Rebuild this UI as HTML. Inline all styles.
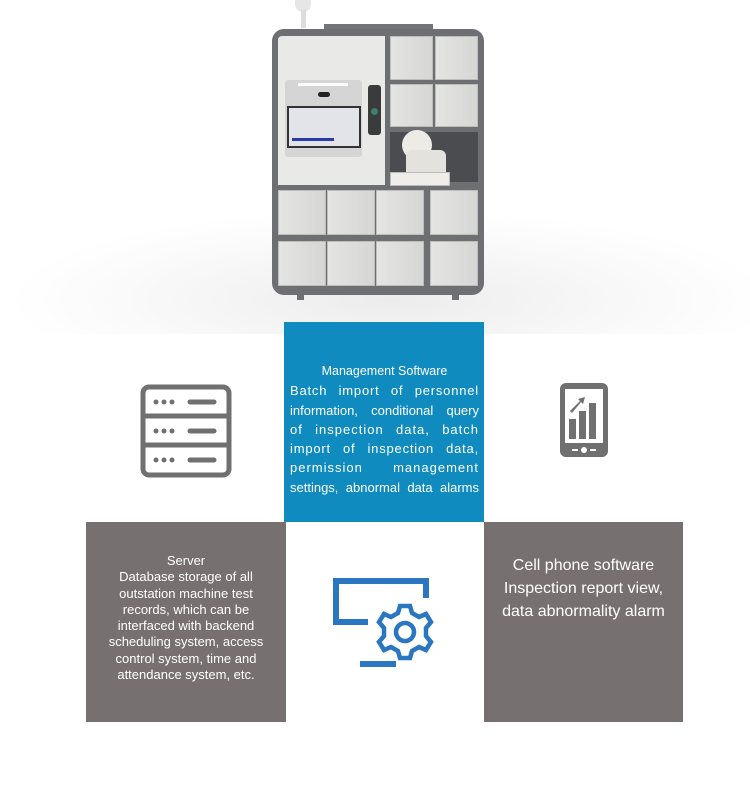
<!DOCTYPE html>
<html><head><meta charset="utf-8"><style>
*{margin:0;padding:0;box-sizing:border-box}
body{width:750px;height:790px;position:relative;background:#fff;font-family:"Liberation Sans",sans-serif;overflow:hidden}
.a{position:absolute}
.bg{left:0;top:0;width:750px;height:334px;background:radial-gradient(ellipse 380px 90px at 390px 300px,#ececec 0%,#f7f7f7 55%,#fff 100%)}
.d{position:absolute;background:linear-gradient(90deg,#e4e4e2,#d6d6d4);border:1px solid #bdbdbb}
.box{position:absolute;color:#fff;text-align:center;font-family:"Liberation Sans Narrow","Liberation Sans",sans-serif}
.j{text-align:justify;text-align-last:justify;white-space:nowrap;height:19.3px}
</style></head><body>
<div class="a bg"></div>
<div class="a" style="left:295px;top:0;width:16px;height:12px;background:#e6e6e6;border-radius:0 0 8px 8px"></div>
<div class="a" style="left:301px;top:10px;width:5px;height:18px;background:#dcdcdc"></div>
<div class="a" style="left:324px;top:24px;width:109px;height:8px;background:#737477"></div>
<div class="a" style="left:272px;top:29px;width:212px;height:266px;background:#6e6f72;border-radius:12px"></div>
<div class="a" style="left:297px;top:290px;width:7px;height:10px;background:#6e6f72"></div>
<div class="a" style="left:452px;top:290px;width:7px;height:10px;background:#6e6f72"></div>
<div class="a" style="left:278px;top:36px;width:107px;height:149px;background:#e9e9e7;border-radius:4px 0 0 0"></div>
<div class="a" style="left:285px;top:80px;width:77px;height:77px;background:#d4d5d4;border-radius:3px"></div>
<div class="a" style="left:298px;top:83px;width:50px;height:3px;background:#fff"></div>
<div class="a" style="left:318px;top:92px;width:12px;height:5px;background:#222;border-radius:3px"></div>
<div class="a" style="left:287px;top:106px;width:74px;height:42px;background:#333;padding:2px"><div style="width:100%;height:100%;background:#e2e4ea"></div></div>
<div class="a" style="left:292px;top:138px;width:42px;height:3px;background:#2a3bb0"></div>
<div class="a" style="left:368px;top:85px;width:13px;height:50px;background:#3a3b3d;border-radius:3px"></div>
<div class="a" style="left:371px;top:108px;width:7px;height:7px;background:#3f7e70;border-radius:50%"></div>
<div class="d" style="left:390px;top:36px;width:43px;height:44px"></div>
<div class="d" style="left:435px;top:36px;width:43px;height:44px"></div>
<div class="d" style="left:390px;top:84px;width:43px;height:43px"></div>
<div class="d" style="left:435px;top:84px;width:43px;height:43px"></div>
<div class="a" style="left:390px;top:132px;width:88px;height:50px;background:#4b4c4f"></div>
<div class="a" style="left:402px;top:130px;width:30px;height:30px;background:#ecebe6;border-radius:50%"></div>
<div class="a" style="left:406px;top:150px;width:40px;height:22px;background:#e4e2dc;border-radius:6px 6px 0 0"></div>
<div class="a" style="left:390px;top:172px;width:60px;height:14px;background:#eeede9;border:1px solid #bbb"></div>
<div class="d" style="left:278px;top:190px;width:48px;height:45px"></div>
<div class="d" style="left:327px;top:190px;width:48px;height:45px"></div>
<div class="d" style="left:376px;top:190px;width:48px;height:45px"></div>
<div class="d" style="left:430px;top:190px;width:48px;height:45px"></div>
<div class="d" style="left:278px;top:241px;width:48px;height:45px"></div>
<div class="d" style="left:327px;top:241px;width:48px;height:45px"></div>
<div class="d" style="left:376px;top:241px;width:48px;height:45px"></div>
<div class="d" style="left:430px;top:241px;width:48px;height:45px"></div>

<div class="box" style="left:284px;top:322px;width:200px;height:200px;background:#0f8bc0;padding:40px 5px 0 6px;font-size:13px;line-height:19.3px">
<div style="font-size:12.5px;height:19.3px">Management Software</div>
<div class="j" style="letter-spacing:0.8px">Batch import of personnel</div>
<div class="j">information, conditional query</div>
<div class="j" style="letter-spacing:1px">of inspection data, batch</div>
<div class="j" style="letter-spacing:0.8px">import of inspection data,</div>
<div class="j" style="letter-spacing:1px">permission management</div>
<div class="j">settings, abnormal data alarms</div></div>
<div class="box" style="left:86px;top:522px;width:200px;height:200px;background:#767170;padding:31px 4px 0;font-size:13px;line-height:16.3px">Server<br>Database storage of all<br>outstation machine test<br>records, which can be<br>interfaced with backend<br>scheduling system, access<br>control system, time and<br>attendance system, etc.</div>
<div class="box" style="left:484px;top:522px;width:199px;height:200px;background:#767170;padding:32px 2px 0;font-size:16px;line-height:23px">Cell phone software<br>Inspection report view,<br>data abnormality alarm</div>

<svg class="a" style="left:138px;top:383px" width="96" height="96">
<rect x="5" y="4" width="86" height="88" rx="6" fill="none" stroke="#707070" stroke-width="5"/>
<line x1="5" y1="33" x2="91" y2="33" stroke="#707070" stroke-width="5"/>
<line x1="5" y1="62" x2="91" y2="62" stroke="#707070" stroke-width="5"/>
<g fill="#707070"><circle cx="18" cy="19" r="2.5"/><circle cx="26" cy="19" r="2.5"/><circle cx="34" cy="19" r="2.5"/>
<circle cx="18" cy="48" r="2.5"/><circle cx="26" cy="48" r="2.5"/><circle cx="34" cy="48" r="2.5"/>
<circle cx="18" cy="77" r="2.5"/><circle cx="26" cy="77" r="2.5"/><circle cx="34" cy="77" r="2.5"/></g>
<g stroke="#707070" stroke-width="5" stroke-linecap="round"><line x1="52" y1="19" x2="76" y2="19"/><line x1="52" y1="48" x2="76" y2="48"/><line x1="52" y1="77" x2="76" y2="77"/></g>
</svg>
<svg class="a" style="left:558px;top:381px" width="52" height="78">
<rect x="2" y="2" width="48" height="74" rx="6" fill="#707070"/>
<rect x="7" y="8" width="38" height="54" fill="#fff"/>
<rect x="11" y="38" width="7" height="20" fill="#707070"/><rect x="21" y="30" width="7" height="28" fill="#707070"/><rect x="31" y="22" width="7" height="36" fill="#707070"/>
<path d="M12 30 L22 20 L20 18 L27 16 L25 23 L23 21 L14 32Z" fill="#707070"/>
<circle cx="26" cy="69" r="3" fill="#fff"/><rect x="14" y="68" width="6" height="2" fill="#fff"/><rect x="32" y="68" width="6" height="2" fill="#fff"/>
</svg>
<svg class="a" style="left:330px;top:576px" width="104" height="94">
<path d="M38 46 H6 V5 H96 V22" fill="none" stroke="#2b76c0" stroke-width="6"/>
<line x1="30" y1="88" x2="66" y2="88" stroke="#2b76c0" stroke-width="6"/>
<g transform="translate(75,56)" fill="none" stroke="#2b76c0" stroke-width="4.5">
<path d="M-5 -26 H5 L7 -19 L14 -15 L21 -18 L26 -10 L21 -4 L21 4 L26 10 L21 18 L14 15 L7 19 L5 26 H-5 L-7 19 L-14 15 L-21 18 L-26 10 L-21 4 L-21 -4 L-26 -10 L-21 -18 L-14 -15 L-7 -19Z"/>
<circle r="9"/></g>
</svg>
</body></html>
